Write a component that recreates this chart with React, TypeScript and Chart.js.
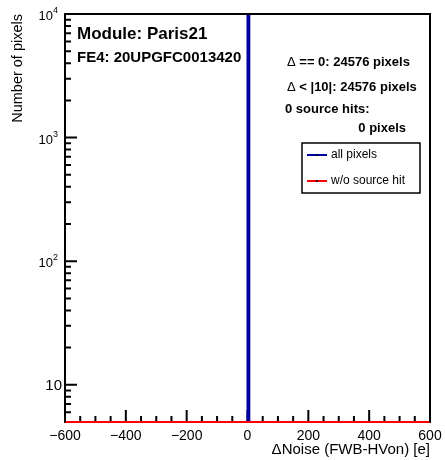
import React, { useEffect, useRef } from "react";
import { Chart, registerables } from "chart.js";

Chart.register(...registerables);

// ---- data ----
const binEdges = [-600, 0, 6, 600];
const allPixelsCounts = [0, 24576, 0];
const noSourceHitCounts = [0, 0, 0];
const seriesLabels = ["all pixels", "w/o source hit"];
const seriesColors = ["#0000a0", "#ff0000"];
const xTickLabels = [-600, -400, -200, 0, 200, 400, 600];
const yTickValues = [10, 100, 1000, 10000];
const yTickExponents = [1, 2, 3, 4];
const moduleTitle = "Module: Paris21";
const feTitle = "FE4: 20UPGFC0013420";
const statsLines = [
  { delta: true, text: " == 0: 24576 pixels" },
  { delta: true, text: " < |10|: 24576 pixels" },
  { delta: false, text: "0 source hits:" },
  { delta: false, text: "0 pixels" },
];
const xTitle = "\u0394Noise (FWB-HVon) [e]";
const yTitle = "Number of pixels";

const X_MIN = -600;
const X_MAX = 600;
const Y_MIN = 5;
const Y_MAX = 10000;

const FONT = "'Liberation Sans', Arial, Helvetica, sans-serif";

function stepPoints(edges: number[], counts: number[]) {
  const pts: { x: number; y: number }[] = [];
  for (let i = 0; i < counts.length; i++) {
    const v = Math.max(counts[i], Y_MIN);
    pts.push({ x: edges[i], y: v });
    pts.push({ x: edges[i + 1], y: v });
  }
  return pts;
}

const rootPlugin = {
  id: "rootStyle",
  beforeDatasetsDraw(chart: any) {
    const ctx = chart.ctx as CanvasRenderingContext2D;
    const { left, right, top, bottom } = chart.chartArea;
    const xs = chart.scales.x;
    const ys = chart.scales.y;
    ctx.save();
    ctx.strokeStyle = "#000";
    ctx.lineWidth = 2;
    ctx.strokeRect(left, top, right - left, bottom - top);
    // x ticks (inward)
    ctx.beginPath();
    for (let v = X_MIN; v <= X_MAX; v += 50) {
      const px = xs.getPixelForValue(v);
      const major = v % 200 === 0;
      const len = major ? 12 : 6;
      ctx.moveTo(px, bottom);
      ctx.lineTo(px, bottom - len);
    }
    // y ticks (log)
    for (let e = 0; e <= 4; e++) {
      const base = Math.pow(10, e);
      for (let m = 1; m <= 9; m++) {
        const val = base * m;
        if (val < Y_MIN || val > Y_MAX) continue;
        const py = ys.getPixelForValue(val);
        const len = m === 1 ? 12 : 6;
        ctx.moveTo(left, py);
        ctx.lineTo(left + len, py);
      }
    }
    ctx.stroke();
    ctx.restore();
  },
  afterDatasetsDraw(chart: any) {
    const ctx = chart.ctx as CanvasRenderingContext2D;
    const { left, right, top, bottom } = chart.chartArea;
    const xs = chart.scales.x;
    const ys = chart.scales.y;
    ctx.save();
    ctx.strokeStyle = "#000";
    ctx.lineWidth = 2;
    ctx.beginPath();
    ctx.moveTo(left, bottom);
    ctx.lineTo(left, top);
    ctx.lineTo(right, top);
    ctx.lineTo(right, bottom);
    ctx.stroke();

    ctx.fillStyle = "#000";
    // x tick labels
    ctx.font = `14px ${FONT}`;
    ctx.textAlign = "center";
    ctx.textBaseline = "middle";
    xTickLabels.forEach((v) => {
      const px = xs.getPixelForValue(v);
      const s = v < 0 ? "\u2212" + Math.abs(v) : String(v);
      ctx.fillText(s, px, bottom + 14);
    });
    // x title
    ctx.font = `15px ${FONT}`;
    ctx.textAlign = "right";
    ctx.fillText(xTitle, right, bottom + 28);

    // y tick labels
    yTickValues.forEach((v, i) => {
      const py = ys.getPixelForValue(v);
      const ex = yTickExponents[i];
      ctx.textBaseline = "middle";
      if (ex === 1) {
        ctx.font = `15px ${FONT}`;
        ctx.textAlign = "right";
        ctx.fillText("10", left - 3, py + 1);
      } else {
        ctx.font = `9px ${FONT}`;
        const supW = ctx.measureText(String(ex)).width;
        ctx.textAlign = "right";
        ctx.textBaseline = "alphabetic";
        ctx.fillText(String(ex), left - 7, py - 1);
        ctx.font = `13px ${FONT}`;
        ctx.fillText("10", left - 7 - supW, py + 6);
      }
    });

    // y title
    ctx.save();
    ctx.font = `14.5px ${FONT}`;
    ctx.translate(18, top);
    ctx.rotate(-Math.PI / 2);
    ctx.textAlign = "right";
    ctx.textBaseline = "middle";
    ctx.fillText(yTitle, 0, 0);
    ctx.restore();

    // module titles
    ctx.textAlign = "left";
    ctx.textBaseline = "alphabetic";
    ctx.font = `bold 17px ${FONT}`;
    ctx.fillText(moduleTitle, 77, 39);
    ctx.font = `bold 15px ${FONT}`;
    ctx.fillText(feTitle, 77, 62);

    // stats
    const statPos = [
      { x: 287, y: 65.5, align: "left" },
      { x: 287, y: 90.5, align: "left" },
      { x: 285, y: 112.5, align: "left" },
      { x: 406, y: 131.5, align: "right" },
    ];
    statsLines.forEach((ln, i) => {
      const p = statPos[i];
      ctx.font = `bold 13px ${FONT}`;
      if (p.align === "right") {
        ctx.textAlign = "right";
        ctx.fillText(ln.text, p.x, p.y);
        return;
      }
      ctx.textAlign = "left";
      let x = p.x;
      if (ln.delta) {
        ctx.font = `13px ${FONT}`;
        ctx.fillText("\u0394", x, p.y);
        x += ctx.measureText("\u0394").width;
        ctx.font = `bold 13px ${FONT}`;
      }
      ctx.fillText(ln.text, x, p.y);
    });

    // legend
    const bx = 302, by = 143, bw = 118, bh = 50;
    ctx.lineWidth = 1.5;
    ctx.strokeStyle = "#000";
    ctx.strokeRect(bx, by, bw, bh);
    const rowsY = [155, 181];
    seriesLabels.forEach((lab, i) => {
      const y = rowsY[i];
      ctx.strokeStyle = seriesColors[i];
      ctx.lineWidth = 2;
      ctx.beginPath();
      ctx.moveTo(307, y);
      ctx.lineTo(327, y);
      ctx.stroke();
      ctx.fillStyle = "#000";
      ctx.beginPath();
      ctx.arc(317, y, 1, 0, Math.PI * 2);
      ctx.fill();
      ctx.font = `12px ${FONT}`;
      ctx.textAlign = "left";
      ctx.textBaseline = "middle";
      ctx.fillText(lab, 331, y);
    });
    ctx.restore();
  },
};

export default function App() {
  const ref = useRef<HTMLCanvasElement | null>(null);
  useEffect(() => {
    document.body.style.margin = "0";
    const canvas = ref.current;
    if (!canvas) return;
    const chart = new Chart(canvas, {
      type: "line",
      data: {
        datasets: [
          {
            label: seriesLabels[0],
            data: stepPoints(binEdges, allPixelsCounts),
            borderColor: seriesColors[0],
            borderWidth: 2,
            pointRadius: 0,
            fill: false,
            tension: 0,
            order: 1,
            clip: { left: 0, right: 0, top: 0, bottom: 3 } as any,
          },
          {
            label: seriesLabels[1],
            data: stepPoints(binEdges, noSourceHitCounts),
            borderColor: seriesColors[1],
            borderWidth: 2,
            pointRadius: 0,
            fill: false,
            tension: 0,
            order: 0,
            clip: { left: 0, right: 0, top: 0, bottom: 3 } as any,
          },
        ],
      },
      options: {
        animation: false,
        responsive: false,
        devicePixelRatio: 1,
        layout: { padding: { left: 65, right: 15, top: 14, bottom: 38 } },
        scales: {
          x: { type: "linear", min: X_MIN, max: X_MAX, display: false },
          y: { type: "logarithmic", min: Y_MIN, max: Y_MAX, display: false },
        },
        plugins: {
          legend: { display: false },
          tooltip: { enabled: false },
        },
      },
      plugins: [rootPlugin],
    } as any);
    return () => chart.destroy();
  }, []);
  return (
    <canvas
      ref={ref}
      width={445}
      height={460}
      style={{ display: "block", width: 445, height: 460, background: "#fff" }}
    />
  );
}
